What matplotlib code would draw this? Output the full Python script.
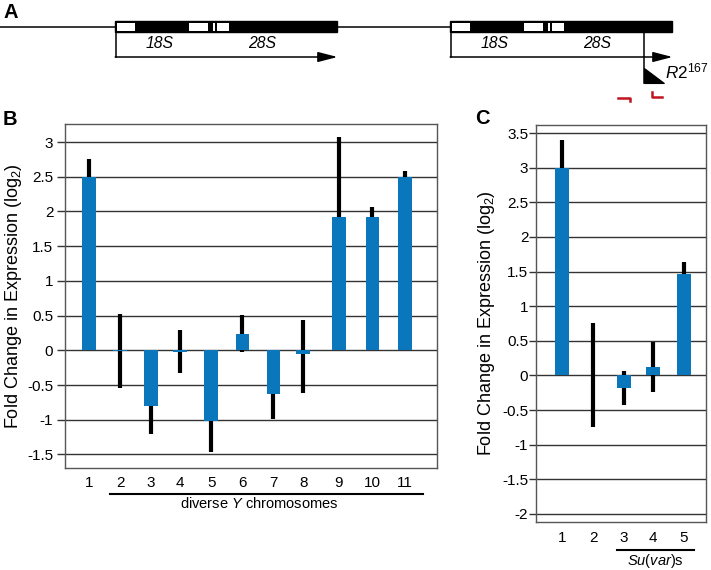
import numpy as np
import matplotlib
matplotlib.use("Agg")
import matplotlib.pyplot as plt
from matplotlib.patches import Rectangle, Polygon

plt.rcParams['font.family'] = ['Liberation Sans', 'DejaVu Sans']
plt.rcParams['mathtext.fontset'] = 'custom'
plt.rcParams['mathtext.rm'] = 'Liberation Sans'
plt.rcParams['mathtext.it'] = 'Liberation Sans:italic'
plt.rcParams['mathtext.bf'] = 'Liberation Sans:bold'

# panel B: diverse Y chromosomes
b_labels = ['1', '2', '3', '4', '5', '6', '7', '8', '9', '10', '11']
b_vals = [2.50, -0.01, -0.80, -0.02, -1.02, 0.24, -0.63, -0.05, 1.92, 1.92, 2.50]
b_err_lo = [0.25, 0.54, 0.41, 0.30, 0.45, 0.27, 0.36, 0.57, 1.15, 0.14, 0.09]
b_err_hi = [0.25, 0.54, 0.41, 0.31, 0.45, 0.27, 0.36, 0.48, 1.15, 0.14, 0.09]
b_ticks = [-1.5, -1, -0.5, 0, 0.5, 1, 1.5, 2, 2.5, 3]

# panel C: Su(var)s
c_labels = ['1', '2', '3', '4', '5']
c_vals = [3.00, 0.00, -0.18, 0.12, 1.47]
c_err = [0.40, 0.75, 0.25, 0.36, 0.17]
c_ticks = [-2, -1.5, -1, -0.5, 0, 0.5, 1, 1.5, 2, 2.5, 3, 3.5]

# layout (bar slots are slightly uneven in the original)
b_pos = [1, 1.99, 2.97, 3.89, 4.87, 5.86, 6.84, 7.78, 8.91, 9.97, 11]
c_pos = [1, 2.03, 3.03, 3.99, 5]

BLUE = '#0a77bd'
GRID = '#333333'
W, H = 711, 570


def tick_fmt(v):
    return ('%g' % v)


fig = plt.figure(figsize=(W / 100, H / 100), dpi=100)

# overlay in pixel coordinates for the schematic and annotations
ov = fig.add_axes([0, 0, 1, 1])
ov.set_xlim(0, W)
ov.set_ylim(H, 0)
ov.axis('off')


def bar_panel(ax, pos, vals, err, ticks, ylim, xlim, width, tlen, tpad):
    ax.set_axisbelow(True)
    for t in ticks:
        ax.axhline(t, color=GRID, lw=1.0, zorder=1)
    ax.errorbar(pos, vals, yerr=err, fmt='none', ecolor='black',
                elinewidth=3.0, capsize=0, zorder=2)
    ax.bar(pos, vals, width=width, color=BLUE, zorder=3)
    ax.set_ylim(*ylim)
    ax.set_xlim(*xlim)
    ax.set_yticks(ticks)
    ax.set_yticklabels([tick_fmt(t) for t in ticks])
    ax.tick_params(axis='y', length=tlen, width=1.0, color=GRID, pad=tpad, labelsize=11)
    for s in ax.spines.values():
        s.set_color('#555555')
        s.set_linewidth(1.0)
    ax.set_ylabel('Fold Change in Expression (log$_2$)', fontsize=13)


axB = fig.add_axes([65.3 / W, 1 - 468.3 / H, 372 / W, 344.3 / H])
bar_panel(axB, b_pos, b_vals, [b_err_lo, b_err_hi], b_ticks,
          (-1.70, 3.26), (0.26, 12.02), 0.43, 5.8, 2.8)
axB.set_xticks(b_pos)
axB.set_xticklabels(b_labels)
axB.tick_params(axis='x', length=0, pad=5.5, labelsize=11)
axB.yaxis.set_label_coords(-0.111, 0.5)

axC = fig.add_axes([535.7 / W, 1 - 522.3 / H, 170.3 / W, 397.6 / H])
bar_panel(axC, c_pos, c_vals, c_err, c_ticks,
          (-2.12, 3.62), (0.15, 5.72), 0.45, 5.0, 0.3)
axC.set_xticks(c_pos)
axC.set_xticklabels(c_labels)
axC.tick_params(axis='x', length=0, pad=6.3, labelsize=11)
axC.yaxis.set_label_coords(-0.227, 0.5)

# group annotations under the x axes
ov.plot([110, 422.7], [494, 494], color='black', lw=1.5)
ov.text(259, 504, 'diverse $\\mathit{Y}$ chromosomes', ha='center', va='center', fontsize=10.5)
ov.plot([616.7, 694], [550, 550], color='black', lw=1.5)
ov.text(655, 561.5, '$\\mathit{Su(var)}$s', ha='center', va='center', fontsize=10.5)

# panel letters
ov.text(3, 3, 'A', fontsize=14.5, fontweight='bold', va='top')
ov.text(3, 110, 'B', fontsize=14.5, fontweight='bold', va='top')
ov.text(475, 109, 'C', fontsize=14.5, fontweight='bold', va='top')

# panel A: rDNA schematic
unit_starts = [115, 450]
unit_len = 221.5
white_segs = [(1.7, 20), (73.5, 93.3), (97.8, 99.6), (101.6, 114.3)]
box_top, box_bot = 21.3, 32.3

ov.plot([0, unit_starts[0]], [26.7, 26.7], color='black', lw=1.1)
ov.plot([unit_starts[0] + unit_len, unit_starts[1]], [26.7, 26.7], color='black', lw=1.1)
for u0 in unit_starts:
    ov.add_patch(Rectangle((u0, box_top), unit_len, box_bot - box_top,
                           facecolor='black', edgecolor='black', lw=1.0))
    for a, b in white_segs:
        ov.add_patch(Rectangle((u0 + a, box_top + 1.2), b - a, box_bot - box_top - 2.4,
                               facecolor='white', edgecolor='none'))
    ov.plot([u0 + 0.7, u0 + 0.7], [box_bot, 57], color='black', lw=1.1)
    ov.annotate('', xy=(u0 + unit_len + 1, 57), xytext=(u0 + 0.2, 57),
                arrowprops=dict(arrowstyle='-|>,head_length=0.85,head_width=0.22',
                                mutation_scale=14, lw=1.1, color='black',
                                shrinkA=0, shrinkB=0))
    ov.text(u0 + 44.5, 43.5, '18S', style='italic', fontsize=11.3, ha='center', va='center')
    ov.text(u0 + 146.7, 43.5, '28S', style='italic', fontsize=11.3, ha='center', va='center')

# R2 insertion in the second unit
ov.plot([644, 644], [box_bot, 83.3], color='black', lw=1.1)
ov.add_patch(Polygon([(644, 67.5), (644, 83.3), (664, 83.3)], closed=True,
                     facecolor='black', edgecolor='black', lw=0.8))
ov.text(665, 78.5, '$\\mathit{R2}^{\\mathit{167}}$', fontsize=12.3, ha='left', va='baseline')

# primers
RED = '#c0141e'
ov.plot([618, 629.5, 629.5], [97.5, 97.5, 100.5], color=RED, lw=1.8)
ov.plot([651.5, 651.5, 662], [91.5, 96.5, 96.5], color=RED, lw=1.8)

fig.savefig('out.png', dpi=100)
